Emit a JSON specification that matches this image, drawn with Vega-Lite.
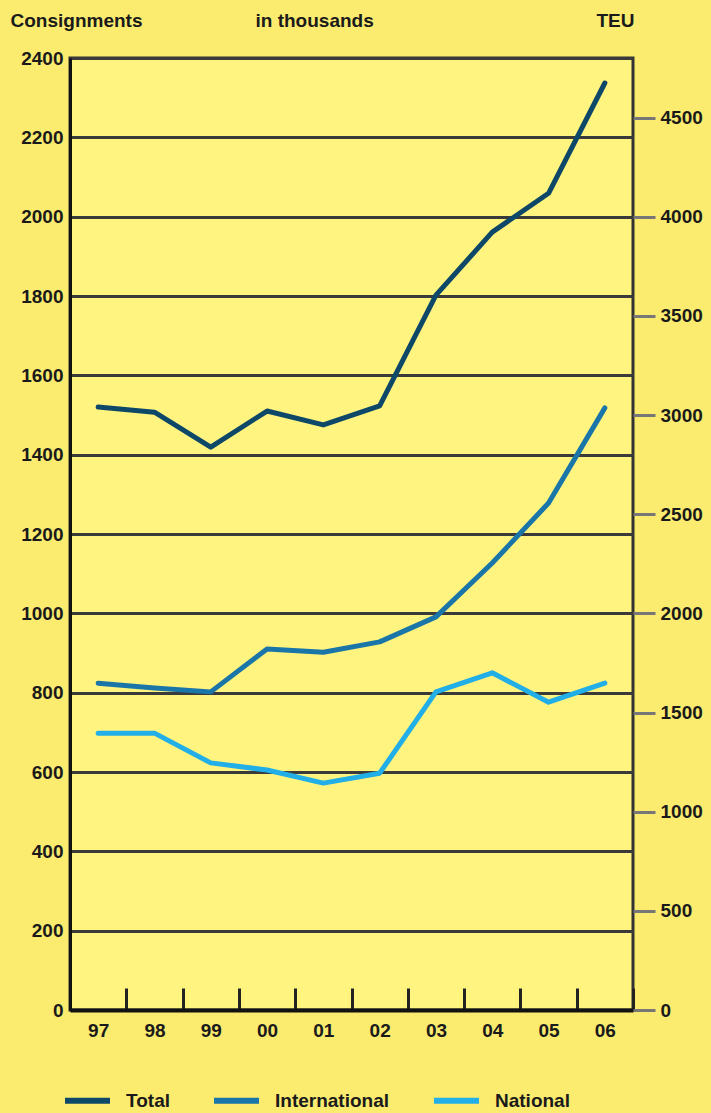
{
  "$schema": "https://vega.github.io/schema/vega-lite/v6.json",
  "width": 563,
  "height": 952,
  "autosize": "none",
  "padding": {"left": 70, "top": 58, "right": 78, "bottom": 103},
  "background": "#fbec70",
  "config": {
    "view": {"stroke": "#333333", "strokeWidth": 3, "fill": "#fff47f"},
    "font": "Liberation Sans",
    "axis": {
      "labelFont": "Liberation Sans",
      "labelFontWeight": "bold",
      "labelFontSize": 19,
      "labelColor": "#1a1a1a",
      "titleFont": "Liberation Sans",
      "titleFontWeight": "bold",
      "titleFontSize": 19,
      "titleColor": "#1a1a1a"
    }
  },
  "data": {
    "values": [
      {"year": "97", "series": "Total", "value": 1520},
      {"year": "98", "series": "Total", "value": 1507},
      {"year": "99", "series": "Total", "value": 1419},
      {"year": "00", "series": "Total", "value": 1510},
      {"year": "01", "series": "Total", "value": 1475},
      {"year": "02", "series": "Total", "value": 1523},
      {"year": "03", "series": "Total", "value": 1802},
      {"year": "04", "series": "Total", "value": 1961},
      {"year": "05", "series": "Total", "value": 2059},
      {"year": "06", "series": "Total", "value": 2337},
      {"year": "97", "series": "International", "value": 824},
      {"year": "98", "series": "International", "value": 812},
      {"year": "99", "series": "International", "value": 802},
      {"year": "00", "series": "International", "value": 910},
      {"year": "01", "series": "International", "value": 902},
      {"year": "02", "series": "International", "value": 928},
      {"year": "03", "series": "International", "value": 991},
      {"year": "04", "series": "International", "value": 1127},
      {"year": "05", "series": "International", "value": 1278},
      {"year": "06", "series": "International", "value": 1518},
      {"year": "97", "series": "National", "value": 698},
      {"year": "98", "series": "National", "value": 698},
      {"year": "99", "series": "National", "value": 623},
      {"year": "00", "series": "National", "value": 605},
      {"year": "01", "series": "National", "value": 572},
      {"year": "02", "series": "National", "value": 597},
      {"year": "03", "series": "National", "value": 802},
      {"year": "04", "series": "National", "value": 850},
      {"year": "05", "series": "National", "value": 776},
      {"year": "06", "series": "National", "value": 824}
    ]
  },
  "layer": [
    {
      "mark": {"type": "line", "strokeWidth": 5, "strokeCap": "round", "strokeJoin": "round"},
      "encoding": {
        "x": {
          "field": "year", "type": "ordinal", "sort": null,
          "scale": {"type": "band", "paddingInner": 0, "paddingOuter": 0},
          "axis": {
            "orient": "bottom", "title": null, "labelAngle": 0, "grid": false,
            "tickBand": "extent", "tickSize": -22, "tickWidth": 3, "tickColor": "#222222",
            "domainColor": "#111111", "domainWidth": 4, "labelPadding": 33
          }
        },
        "y": {
          "field": "value", "type": "quantitative",
          "scale": {"domain": [0, 2400], "nice": false},
          "axis": {
            "orient": "left", "format": "d",
            "values": [0, 200, 400, 600, 800, 1000, 1200, 1400, 1600, 1800, 2000, 2200, 2400],
            "grid": true, "gridColor": "#3a3a3a", "gridWidth": 3,
            "ticks": false, "domainColor": "#111111", "domainWidth": 3, "labelPadding": 7,
            "title": "Consignments", "titleAngle": 0, "titleX": -60, "titleY": -32,
            "titleAlign": "left", "titleBaseline": "alphabetic"
          }
        },
        "color": {
          "field": "series", "type": "nominal",
          "scale": {"domain": ["Total", "International", "National"], "range": ["#0e4868", "#1a76a8", "#22aee6"]},
          "legend": {
            "orient": "none", "legendX": -8, "legendY": 1017, "direction": "horizontal",
            "title": null, "symbolType": "stroke", "symbolStrokeWidth": 6, "symbolSize": 2025,
            "labelFont": "Liberation Sans", "labelFontSize": 19, "labelFontWeight": "bold",
            "labelColor": "#1a1a1a", "columnPadding": 32, "labelOffset": 13
          }
        }
      }
    },
    {
      "mark": {"type": "line", "opacity": 0},
      "encoding": {
        "x": {
          "field": "year", "type": "ordinal", "sort": null,
          "axis": {
            "orient": "top", "title": "in thousands", "labels": false, "ticks": false,
            "domain": false, "grid": false, "titleX": 185, "titleY": -32,
            "titleAlign": "left", "titleBaseline": "alphabetic", "titleAngle": 0
          }
        },
        "y": {
          "field": "value", "type": "quantitative",
          "scale": {"domain": [0, 4800], "nice": false},
          "axis": {
            "orient": "right", "format": "d",
            "values": [0, 500, 1000, 1500, 2000, 2500, 3000, 3500, 4000, 4500],
            "grid": false, "domain": false, "tickSize": 22, "tickWidth": 3, "tickColor": "#777777",
            "labelPadding": 5, "title": "TEU", "titleAngle": 0, "titleX": -37, "titleY": -32,
            "titleAlign": "left", "titleBaseline": "alphabetic"
          }
        },
        "detail": {"field": "series"}
      }
    }
  ],
  "resolve": {"scale": {"y": "independent"}, "axis": {"x": "independent"}}
}
